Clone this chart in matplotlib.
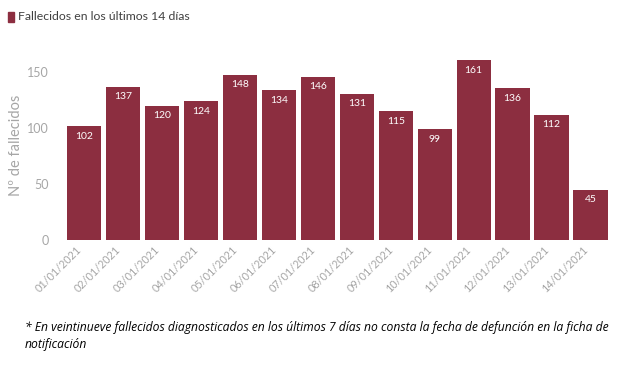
import matplotlib
matplotlib.use("Agg")
import matplotlib.pyplot as plt
import matplotlib.transforms as mtransforms

fechas = ["01/01/2021", "02/01/2021", "03/01/2021", "04/01/2021", "05/01/2021",
          "06/01/2021", "07/01/2021", "08/01/2021", "09/01/2021", "10/01/2021",
          "11/01/2021", "12/01/2021", "13/01/2021", "14/01/2021"]
fallecidos = [102, 137, 120, 124, 148, 134, 146, 131, 115, 99, 161, 136, 112, 45]
yticks = [0, 50, 100, 150]

BAR_COLOR = "#8c2e40"
GRAY = "#a6a6a6"

plt.rcParams["font.family"] = ["Lato", "DejaVu Sans"]

fig = plt.figure(figsize=(6.2, 3.68), dpi=100)
ax = fig.add_axes([0.106, 0.348, 0.876, 0.516])

x = range(len(fechas))
bars = ax.bar(x, fallecidos, width=0.88, color=BAR_COLOR)
for b, v in zip(bars, fallecidos):
    ax.text(b.get_x() + b.get_width() / 2, v - 5, str(v), ha="center", va="top",
            color="white", fontsize=7.5)

ax.set_xlim(-0.47, len(fechas) - 0.53)
ax.set_ylim(0, 170)
ax.set_yticks(yticks)
ax.set_xticks(list(x))
ax.set_xticklabels(fechas, rotation=45, ha="right", rotation_mode="anchor")
ax.tick_params(axis="x", colors=GRAY, labelsize=7.8, length=0, pad=3)
ax.tick_params(axis="y", colors=GRAY, labelsize=9, length=0, pad=12)
offset = mtransforms.ScaledTranslation(-0.08, 0, fig.dpi_scale_trans)
for lbl in ax.get_xticklabels():
    lbl.set_transform(lbl.get_transform() + offset)
ax.set_ylabel("Nº de fallecidos", color=GRAY, fontsize=10.5)
ax.yaxis.set_label_coords(-0.078, 0.5)
for s in ax.spines.values():
    s.set_visible(False)

# leyenda
fig.patches.append(plt.Rectangle((0.013, 0.94), 0.01, 0.028, color=BAR_COLOR,
                                 transform=fig.transFigure, figure=fig))
fig.text(0.029, 0.954, "Fallecidos en los últimos 14 días", fontsize=8.8,
         color="#404040", va="center")

# nota
fig.text(0.04, 0.11, "* En veintinueve fallecidos diagnosticados en los últimos 7 días no consta la fecha de defunción en la ficha de",
         fontsize=8.7, style="italic", color="black", va="center", family=["Open Sans", "DejaVu Sans"])
fig.text(0.04, 0.063, "notificación", fontsize=8.7, style="italic", color="black", va="center",
         family=["Open Sans", "DejaVu Sans"])

fig.savefig("out.png", dpi=100)
